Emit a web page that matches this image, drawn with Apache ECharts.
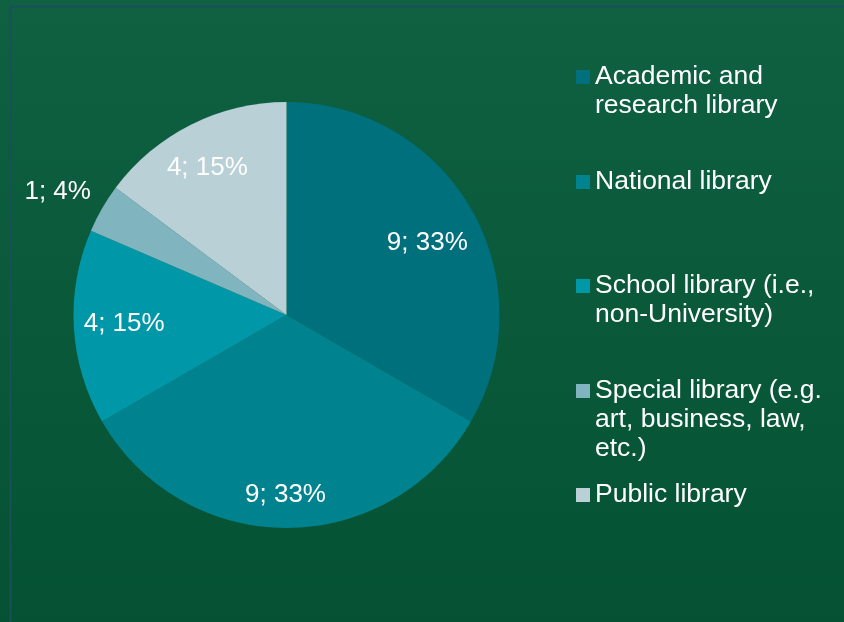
<!DOCTYPE html>
<html>
<head>
<meta charset="utf-8">
<script src="https://cdn.jsdelivr.net/npm/echarts@6/dist/echarts.min.js"></script>
<style>
  html, body { margin: 0; padding: 0; }
  #chart { width: 844px; height: 622px; }
</style>
</head>
<body>
<div id="chart"></div>
<script>
// library types and counts
var categories = [
  'Academic and\nresearch library',
  'National library',
  'School library (i.e.,\nnon-University)',
  'Special library (e.g.\nart, business, law,\netc.)',
  'Public library'
]
var counts = [9, 9, 4, 1, 4]

var sliceColors = ['#00707c', '#00838f', '#0098a8', '#80b5bf', '#b8d0d6']
// nudges of the value labels from the library's inside position
var labelOffsets = [[46, -17], [-1, 70], [-53, 2], [-134, -68], [-30, -49]]
// icon centre of each legend entry
var legendIconY = [77, 182, 286, 391, 495]

var fontFamily = '"Liberation Sans", Arial, sans-serif'
var fontSize = 26
var legendFont = 26.5
var lineH = 29

var chart = echarts.init(document.getElementById('chart'))

// icon sits next to the first line: pad above with blank lines so the
// first line is the middle one
var legends = categories.map(function(name, i) {
  var lines = name.split('\n').length
  return {
    data: [name],
    orient: 'vertical',
    left: 576,
    top: legendIconY[i] - (2 * lines - 1) * lineH / 2,
    padding: 0,
    icon: 'rect',
    itemWidth: 14,
    itemHeight: 14,
    selectedMode: false,
    formatter: function(n) {
      return new Array(lines).join('\n') + n
    },
    textStyle: {
      color: '#ffffff',
      fontSize: legendFont,
      lineHeight: lineH,
      fontFamily: fontFamily
    }
  }
})

chart.setOption({
  backgroundColor: {
    type: 'linear', x: 0, y: 0, x2: 0, y2: 1,
    colorStops: [
      { offset: 0, color: '#0f6141' },
      { offset: 1, color: '#045233' }
    ]
  },
  animation: false,
  graphic: [{
    type: 'rect',
    left: 8,
    top: 4,
    shape: { width: 900, height: 700 },
    style: { fill: 'none', stroke: '#1b4f5c', lineWidth: 2 }
  }],
  legend: legends,
  series: [{
    type: 'pie',
    center: [286.5, 315],
    radius: [0, 213],
    startAngle: 90,
    clockwise: true,
    percentPrecision: 0,
    label: {
      show: true,
      position: 'inside',
      formatter: '{c}; {d}%',
      color: '#ffffff',
      fontSize: fontSize,
      fontFamily: fontFamily
    },
    labelLine: { show: false },
    emphasis: { disabled: true },
    itemStyle: { borderWidth: 0 },
    data: categories.map(function(name, i) {
      return {
        name: name,
        value: counts[i],
        itemStyle: { color: sliceColors[i] },
        label: { offset: labelOffsets[i] }
      }
    })
  }]
})
</script>
</body>
</html>
